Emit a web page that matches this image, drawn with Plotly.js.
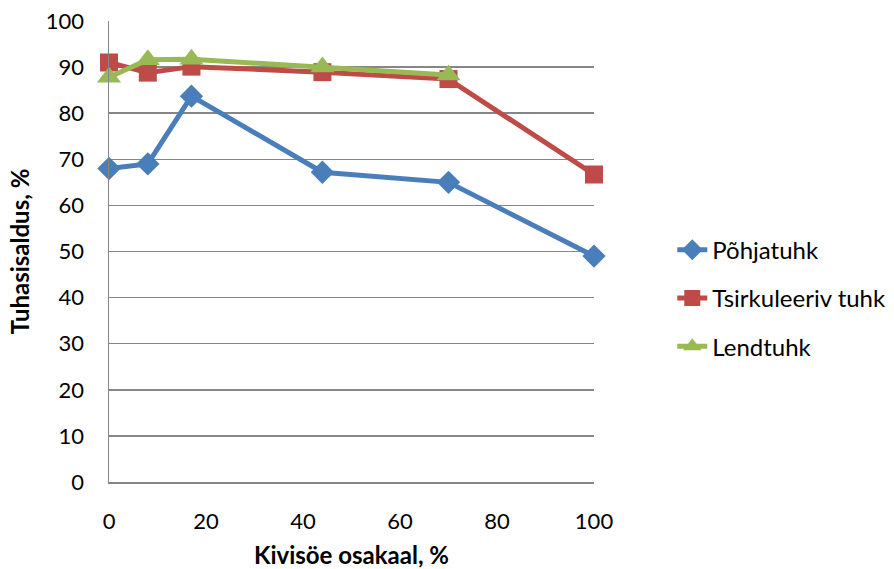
<!DOCTYPE html>
<html>
<head>
<meta charset="utf-8">
<script src="https://cdn.plot.ly/plotly-3.0.1.min.js"></script>
<style>html,body{margin:0;padding:0;background:#fff;}#chart{width:894px;height:569px;}</style>
</head>
<body>
<div id="chart"></div>
<script>
const xValues = [0, 8, 17, 44, 70, 100];
const xValuesLend = [0, 8, 17, 44, 70];
const pohjatuh = [68.0, 69.0, 83.7, 67.2, 65.0, 49.0];
const tsirkuleeriv = [91.0, 88.8, 90.1, 88.9, 87.4, 66.7];
const lendtuhk = [87.8, 91.6, 91.7, 90.0, 88.3];
const seriesNames = ["Põhjatuhk", "Tsirkuleeriv tuhk", "Lendtuhk"];
const yTicks = [0, 10, 20, 30, 40, 50, 60, 70, 80, 90, 100];
const xTicks = [0, 20, 40, 60, 80, 100];

const font = "Lato, 'Open Sans', sans-serif";

const traces = [
  {x: xValues, y: pohjatuh, name: seriesNames[0], mode: "lines+markers", legendgroup: "a", cliponaxis: false,
   line: {color: "#4a7ebb", width: 5}, marker: {symbol: "diamond", size: 18, color: "#4a7ebb"}},
  {x: xValues, y: tsirkuleeriv, name: seriesNames[1], mode: "lines+markers", legendgroup: "b", cliponaxis: false,
   line: {color: "#be4b48", width: 5}, marker: {symbol: "square", size: 18, color: "#be4b48"}},
  {x: xValuesLend, y: lendtuhk, name: seriesNames[2], mode: "lines+markers", legendgroup: "c", cliponaxis: false,
   line: {color: "#98b954", width: 5}, marker: {symbol: "triangle-up", size: 21, color: "#98b954"}}
];

const layout = {
  width: 894, height: 569,
  margin: {l: 109, r: 300, t: 21, b: 87},
  paper_bgcolor: "#fff", plot_bgcolor: "#fff",
  font: {family: font, size: 22, color: "#000"},
  showlegend: true,
  legend: {xref: "container", yref: "container", x: 0.752, xanchor: "left", y: 0.476, yanchor: "middle",
           tracegroupgap: 14,
           font: {family: font, size: 24, color: "#000"}, bgcolor: "rgba(0,0,0,0)"},
  xaxis: {range: [0, 100], tickvals: xTicks, showgrid: false, zeroline: false, automargin: false,
          showline: true, linecolor: "#868686", linewidth: 1.5, ticks: "",
          ticklabelstandoff: 19, tickfont: {size: 22},
          title: {text: "<b>Kivisöe osakaal, %</b>", font: {family: font, size: 24}, standoff: 26}},
  yaxis: {range: [0, 100], tickvals: yTicks, showgrid: true, gridcolor: "#868686", gridwidth: 1.5, automargin: false,
          zeroline: false, showline: true, linecolor: "#868686", linewidth: 1.5, ticks: "",
          ticklabelstandoff: 19, tickfont: {size: 22},
          title: {text: "<b>Tuhasisaldus, %</b>", font: {family: font, size: 24}, standoff: 9}}
};

Plotly.newPlot("chart", traces, layout, {displayModeBar: false, staticPlot: true});
</script>
</body>
</html>
